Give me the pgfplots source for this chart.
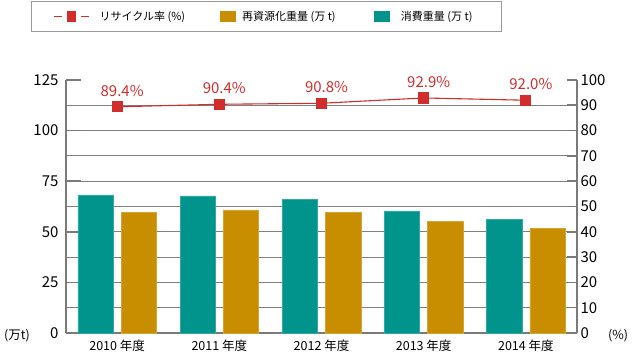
\documentclass[border=0pt]{standalone}
\usepackage{fontspec}
\setmainfont{Noto Sans CJK JP}
\usepackage{pgfplots}
\pgfplotsset{compat=1.18}
\definecolor{cteal}{HTML}{00948C}
\definecolor{cgold}{HTML}{C88E00}
\definecolor{cred}{HTML}{D12D2D}
\definecolor{cgrid}{HTML}{808080}
\definecolor{caxis}{HTML}{7A7A7A}
\definecolor{clegend}{HTML}{9A9A9A}
\begin{document}
\begin{tikzpicture}
\path[use as bounding box] (-66pt,-22pt) rectangle (567pt,333pt);
\begin{axis}[
  at={(0pt,0pt)}, anchor=south west,
  scale only axis, width=511pt, height=253pt,
  xmin=-0.5, xmax=4.5, ymin=0, ymax=125,
  axis x line*=bottom, axis y line*=left,
  axis line style={draw=caxis, line width=1.6pt},
  xtick={0,1,2,3,4},
  xticklabels={2010 年度,2011 年度,2012 年度,2013 年度,2014 年度},
  x tick style={draw=none},
  xticklabel style={font=\fontsize{12.5}{14}\selectfont, yshift=-3pt},
  ytick={0,25,50,75,100},
  minor ytick={12.5,37.5,62.5,87.5,112.5},
  extra y ticks={125}, extra y tick labels={125}, extra y tick style={grid=none},
  ymajorgrids, yminorgrids,
  major grid style={draw=cgrid, line width=0.9pt},
  minor grid style={draw=cgrid, line width=0.9pt},
  y tick style={draw=caxis, line width=1.6pt},
  major tick length=15pt, minor tick length=0pt,
  tick align=inside,
  yticklabel style={font=\fontsize{15}{17}\selectfont, xshift=-4pt},
  /pgf/number format/assume math mode=true,
  clip=false,
  legend columns=3,
  legend cell align=left,
  legend style={at={(-0.0685,1.1897)}, anchor=south west,
    draw=clegend, line width=0.8pt, inner xsep=22pt, inner ysep=9.5pt,
    font=\fontsize{11}{13}\selectfont,
    /tikz/every even column/.style={column sep=0pt},
    /tikz/every odd column/.style={column sep=0pt},
    nodes={inner sep=0pt}},
]
\addlegendimage{legend image code/.code={
  \draw[cred, line width=1.3pt] (0pt,0pt)--(8pt,0pt);
  \fill[cred] (13pt,-5pt) rectangle (21pt,5pt);
  \draw[cred, line width=1.3pt] (27pt,0pt)--(35pt,0pt);}}
\addlegendentry{\makebox[130pt][l]{\hspace{10pt}リサイクル率 (\%)}}
\addplot[ybar, bar width=0.345, bar shift=-0.212, fill=cteal, draw=cteal!80!white, line width=0.5pt, forget plot]
  coordinates {(0,68.2) (1,67.8) (2,65.9) (3,60.3) (4,56.3)};
\addplot[ybar, bar width=0.345, bar shift=0.212, fill=cgold, draw=cgold!80!white, line width=0.5pt,
  legend image code/.code={\fill[cgold] (0pt,-5pt) rectangle (15pt,5pt);}]
  coordinates {(0,59.6) (1,60.8) (2,59.6) (3,55.3) (4,51.7)};
\addlegendentry{\makebox[139pt][l]{\hspace{7pt}再資源化重量 (万 t)}}
\addlegendimage{legend image code/.code={\fill[cteal] (0pt,-5pt) rectangle (15pt,5pt);}}
\addlegendentry{\makebox[89pt][l]{\hspace{11pt}消費重量 (万 t)}}
\node[anchor=east, font=\fontsize{12.5}{14}\selectfont, inner sep=0pt] at (rel axis cs:0,0) [xshift=-36pt, yshift=-3pt] {(万t)};
\node[anchor=west, font=\fontsize{12.5}{14}\selectfont, inner sep=0pt] at (rel axis cs:1,0) [xshift=31pt, yshift=-3pt] {(\%)};
\end{axis}
\begin{axis}[
  at={(0pt,0pt)}, anchor=south west,
  scale only axis, width=511pt, height=253pt,
  xmin=-0.5, xmax=4.5, ymin=0, ymax=100,
  axis y line*=right, axis x line=none,
  axis line style={draw=caxis, line width=1.6pt},
  ytick={0,10,...,100},
  y tick style={draw=caxis, line width=1.6pt},
  major tick length=10pt, tick align=inside,
  yticklabel style={font=\fontsize{15}{17}\selectfont},
  /pgf/number format/assume math mode=true,
  clip=false,
]
\addplot[cred, line width=1.1pt, mark=square*, mark size=5pt, mark options={solid, fill=cred, draw=cred},
  nodes near coords, point meta=explicit symbolic,
  every node near coord/.append style={font=\fontsize{15}{17}\selectfont, text=cred, anchor=base, yshift=10.5pt, xshift=5pt, inner sep=0pt}]
  coordinates {(0,89.4) [89.4\%] (1,90.4) [90.4\%] (2,90.8) [90.8\%] (3,92.9) [92.9\%] (4,92.0) [92.0\%]};
\end{axis}
\end{tikzpicture}
\end{document}
